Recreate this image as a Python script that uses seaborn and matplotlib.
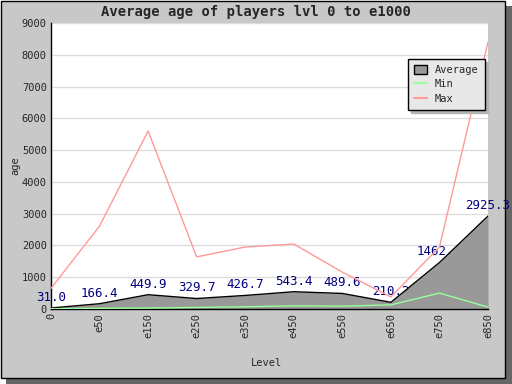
import pandas as pd
import matplotlib
matplotlib.use('Agg')
import matplotlib.pyplot as plt
import seaborn as sns
from matplotlib.patches import Rectangle

# data
levels = ['0', 'e50', 'e150', 'e250', 'e350', 'e450', 'e550', 'e650', 'e750', 'e850']
avg_age = [31.0, 166.4, 449.9, 329.7, 426.7, 543.4, 489.6, 210.2, 1462.4, 2925.3]
min_age = [10, 20, 30, 50, 70, 100, 90, 130, 500, 60]
max_age = [650, 2610, 5600, 1640, 1950, 2045, 1160, 380, 1950, 8400]

df = pd.DataFrame({'pos': range(len(levels)), 'Level': levels,
                   'Average': avg_age, 'Min': min_age, 'Max': max_age})

sns.set_style('white')
plt.rcParams['font.family'] = ['DejaVu Sans Mono']

W, H = 512, 384
fig = plt.figure(figsize=(W / 100, H / 100), dpi=100)
fig.patch.set_facecolor('white')

# panel background with drop shadow
fig.patches.append(Rectangle((6 / W, 0), 506 / W, 378 / H, transform=fig.transFigure,
                             facecolor='#666666', edgecolor='none', zorder=-2))
fig.patches.append(Rectangle((0.5 / W, 6.5 / H), 504 / W, 377 / H, transform=fig.transFigure,
                             facecolor='#c8c8c8', edgecolor='black', linewidth=1, zorder=-1))

ax = fig.add_axes([51 / W, 1 - 309 / H, 437 / W, 286 / H])
ax.set_facecolor('white')

# value labels (drawn under the area, as in the reference)
for x, v in zip(df['pos'], df['Average']):
    ax.annotate(f'{v:.1f}', (x, v), xytext=(0, 3), textcoords='offset points',
                ha='center', va='bottom', color='#000080', fontsize=9, zorder=1)

ax.fill_between(df['pos'], df['Average'], color='#999999', zorder=2, linewidth=0)
ax.plot(df['pos'], df['Average'], color='black', lw=1, zorder=3)
sns.lineplot(data=df, x='pos', y='Min', color='#99ff99', lw=1, ax=ax, zorder=4)
sns.lineplot(data=df, x='pos', y='Max', color='#ff9999', lw=1, ax=ax, zorder=4)

ax.set_xlim(0, len(levels) - 1)
ax.set_ylim(0, 9000)
ax.set_yticks(range(0, 9001, 1000))
ax.set_xticks(df['pos'])
ax.set_xticklabels(levels, rotation=90, fontsize=7.5)
ax.tick_params(axis='y', labelsize=7.5)
ax.tick_params(direction='in', length=6, width=1, color='black', pad=3)
ax.yaxis.grid(True, color='#dddddd', lw=1)
ax.set_axisbelow(True)
for s in ['top', 'right']:
    ax.spines[s].set_visible(False)
for s in ['left', 'bottom']:
    ax.spines[s].set_color('black')
    ax.spines[s].set_linewidth(1)

ax.set_xlabel('Level', fontsize=7.5)
ax.set_ylabel('age', fontsize=7.5)
ax.xaxis.set_label_coords(0.493, -0.171)
ax.yaxis.set_label_coords(-0.071, 0.503)

fig.text(0.5, 1 - 12 / H, 'Average age of players lvl 0 to e1000', ha='center', va='center',
         fontsize=10, fontweight='bold')

handles = [Rectangle((0, 0), 1, 1, facecolor='#999999', edgecolor='black'),
           plt.Line2D([], [], color='#99ff99', lw=1.5),
           plt.Line2D([], [], color='#ff9999', lw=1.5)]
leg = ax.legend(handles, ['Average', 'Min', 'Max'], loc='upper right',
                bbox_to_anchor=(0.993, 0.874), borderaxespad=0, fontsize=7.5,
                fancybox=False, shadow={'color': '#b4b4b4', 'alpha': 1},
                framealpha=1, facecolor='#e8e8e8', edgecolor='black',
                handlelength=1.2, handleheight=0.9, borderpad=0.6, labelspacing=0.4)
leg.get_frame().set_linewidth(1)

fig.savefig('out.png', dpi=100)
